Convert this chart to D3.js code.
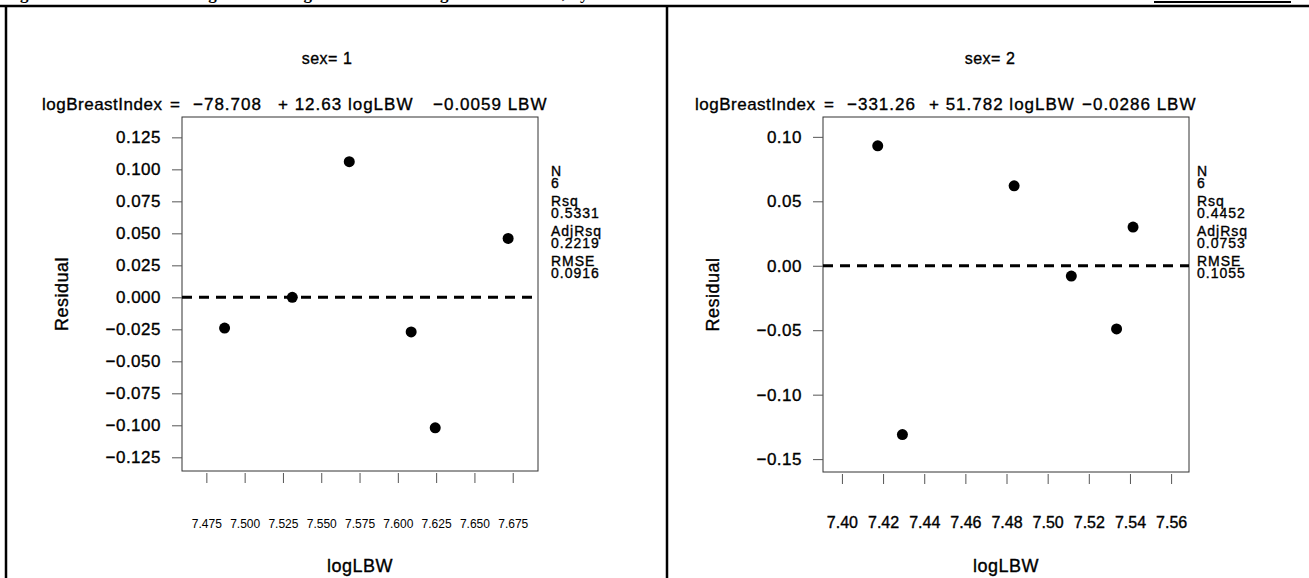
<!DOCTYPE html>
<html>
<head>
<meta charset="utf-8">
<script src="https://cdn.jsdelivr.net/npm/d3@7"></script>
<style>
  body { margin: 0; background: #fff; }
  svg text { font-family: "Liberation Sans", Arial, sans-serif; fill: #000; }
  svg .heavy { stroke: #000; stroke-width: 0.35px; }
</style>
</head>
<body>
<div id="chart"></div>
<script>
// residuals vs logLBW, one panel per sex
var sex1LogLBW = [7.4869, 7.5311, 7.5683, 7.6087, 7.6244, 7.6720];
var sex1Resid  = [-0.024, 0.000, 0.106, -0.027, -0.102, 0.046];
var sex2LogLBW = [7.4174, 7.4294, 7.4837, 7.5115, 7.5335, 7.5415];
var sex2Resid  = [0.093, -0.131, 0.062, -0.008, -0.049, 0.030];

var sex1XTicks = [7.475, 7.500, 7.525, 7.550, 7.575, 7.600, 7.625, 7.650, 7.675];
var sex1YTicks = [0.125, 0.100, 0.075, 0.050, 0.025, 0.000, -0.025, -0.050, -0.075, -0.100, -0.125];
var sex2XTicks = [7.40, 7.42, 7.44, 7.46, 7.48, 7.50, 7.52, 7.54, 7.56];
var sex2YTicks = [0.10, 0.05, 0.00, -0.05, -0.10, -0.15];

var sex1Eq = ["logBreastIndex", "=", "\u221278.708", "+ 12.63 logLBW", "\u22120.0059 LBW"];
var sex2Eq = ["logBreastIndex", "=", "\u2212331.26", "+ 51.782 logLBW", "\u22120.0286 LBW"];
var statLabels = ["N", "Rsq", "AdjRsq", "RMSE"];
var sex1Stats = ["6", "0.5331", "0.2219", "0.0916"];
var sex2Stats = ["6", "0.4452", "0.0753", "0.1055"];

var W = 1309, H = 578;
var svg = d3.select("#chart").append("svg")
    .attr("width", W).attr("height", H);

// page frame (document table borders), caption row mostly cut off above
svg.append("text")
    .attr("x", 5).attr("y", -1.5)
    .style("font-family", "Liberation Serif, Times New Roman, serif")
    .style("font-weight", "bold").style("font-size", "17px")
    .text("Figure 9. Residuals of the regression of logBreastIndex on logLBW and LBW, by sex");
svg.append("line").attr("x1", 0).attr("x2", W).attr("y1", 6).attr("y2", 6)
    .attr("stroke", "#000").attr("stroke-width", 2.5);
svg.append("line").attr("x1", 1154).attr("x2", 1291).attr("y1", 2).attr("y2", 2)
    .attr("stroke", "#000").attr("stroke-width", 2);
svg.append("line").attr("x1", 6).attr("x2", 6).attr("y1", 6).attr("y2", H)
    .attr("stroke", "#000").attr("stroke-width", 2.5);
svg.append("line").attr("x1", 667).attr("x2", 667).attr("y1", 6).attr("y2", H)
    .attr("stroke", "#000").attr("stroke-width", 2.5);

function fmt(d) {
  return d < 0 ? "\u2212" + d3.format(".3f")(-d) : d3.format(".3f")(d);
}
function fmt2(d) {
  return d < 0 ? "\u2212" + d3.format(".2f")(-d) : d3.format(".2f")(d);
}

function drawPanel(p) {
  var g = svg.append("g");
  var x = d3.scaleLinear().domain(p.xDomain).range([p.left, p.right]);
  var y = d3.scaleLinear().domain(p.yDomain).range([p.bottom, p.top]);

  g.append("text").attr("class", "heavy").attr("x", p.titleX).attr("y", 64)
      .attr("text-anchor", "middle").style("font-size", "16px")
      .style("letter-spacing", "0.5px")
      .text(p.title);

  // fitted equation, pieces spaced like the SAS inset
  p.eq.forEach(function(s, i) {
    g.append("text").attr("class", "heavy").attr("x", p.eqX[i]).attr("y", 110)
        .style("font-size", "17px").style("letter-spacing", i == 0 ? "0.5px" : "1px")
        .text(s);
  });

  g.append("rect")
      .attr("x", p.left).attr("y", p.top)
      .attr("width", p.right - p.left).attr("height", p.bottom - p.top)
      .attr("fill", "none").attr("stroke", "#333").attr("stroke-width", 1);

  var yAxis = g.append("g")
      .attr("transform", "translate(" + p.left + ",0)")
      .call(d3.axisLeft(y).tickValues(p.yTicks).tickSize(10).tickPadding(11).tickFormat(p.yFmt));
  yAxis.select(".domain").remove();
  yAxis.selectAll("line").attr("stroke", "#555");
  yAxis.selectAll("text").attr("class", "heavy")
      .style("font-size", "17px").style("letter-spacing", "0.5px")
      .style("font-family", "Liberation Sans, Arial, sans-serif");

  var xAxis = g.append("g")
      .attr("transform", "translate(0," + (p.bottom + 2) + ")")
      .call(d3.axisBottom(x).tickValues(p.xTicks).tickSize(10).tickPadding(p.xPad).tickFormat(p.xFmt));
  xAxis.select(".domain").remove();
  xAxis.selectAll("line").attr("stroke", "#555");
  xAxis.selectAll("text").attr("class", p.xHeavy ? "heavy" : null)
      .style("font-size", p.xFont)
      .style("font-family", "Liberation Sans, Arial, sans-serif");

  g.append("text").attr("class", "heavy")
      .attr("transform", "translate(" + p.ylabX + "," + ((p.top + p.bottom) / 2) + ") rotate(-90)")
      .attr("text-anchor", "middle").attr("dy", "0.35em")
      .style("font-size", "18px").style("letter-spacing", "0.5px")
      .text("Residual");

  g.append("text").attr("class", "heavy")
      .attr("x", (p.left + p.right) / 2).attr("y", 572)
      .attr("text-anchor", "middle").style("font-size", "18px").style("letter-spacing", "0.5px")
      .text("logLBW");

  g.append("line")
      .attr("x1", p.left).attr("x2", p.right)
      .attr("y1", y(0)).attr("y2", y(0))
      .attr("stroke", "#000").attr("stroke-width", 3).attr("stroke-dasharray", "10,7");

  g.selectAll("circle.pt").data(p.xs)
    .enter().append("circle").attr("class", "pt")
      .attr("cx", function(d) { return x(d); })
      .attr("cy", function(d, i) { return y(p.ys[i]); })
      .attr("r", 5.5).attr("fill", "#000");

  // fit statistics
  statLabels.forEach(function(lab, i) {
    g.append("text").attr("class", "heavy").attr("x", p.statX).attr("y", 176 + i * 30)
        .style("font-size", "14px").style("letter-spacing", "1px").text(lab);
    g.append("text").attr("class", "heavy").attr("x", p.statX).attr("y", 188 + i * 30)
        .style("font-size", "14px").style("letter-spacing", "1px").text(p.stats[i]);
  });
}

drawPanel({
  title: "sex= 1", titleX: 327,
  xs: sex1LogLBW, ys: sex1Resid,
  xTicks: sex1XTicks, yTicks: sex1YTicks,
  xDomain: [7.4591, 7.6915], yDomain: [-0.1357, 0.1409],
  left: 182, right: 538, top: 117, bottom: 471,
  eq: sex1Eq, eqX: [42, 170, 193, 278, 433],
  stats: sex1Stats, statX: 551,
  ylabX: 62, xPad: 36, xFont: "12px", xHeavy: false,
  yFmt: fmt, xFmt: d3.format(".3f")
});

drawPanel({
  title: "sex= 2", titleX: 990,
  xs: sex2LogLBW, ys: sex2Resid,
  xTicks: sex2XTicks, yTicks: sex2YTicks,
  xDomain: [7.3908, 7.5687], yDomain: [-0.1600, 0.1154],
  left: 823, right: 1189, top: 117, bottom: 472,
  eq: sex2Eq, eqX: [695, 824, 847, 929, 1082],
  stats: sex2Stats, statX: 1197,
  ylabX: 713, xPad: 33, xFont: "16px", xHeavy: true,
  yFmt: fmt2, xFmt: d3.format(".2f")
});
</script>
</body>
</html>
